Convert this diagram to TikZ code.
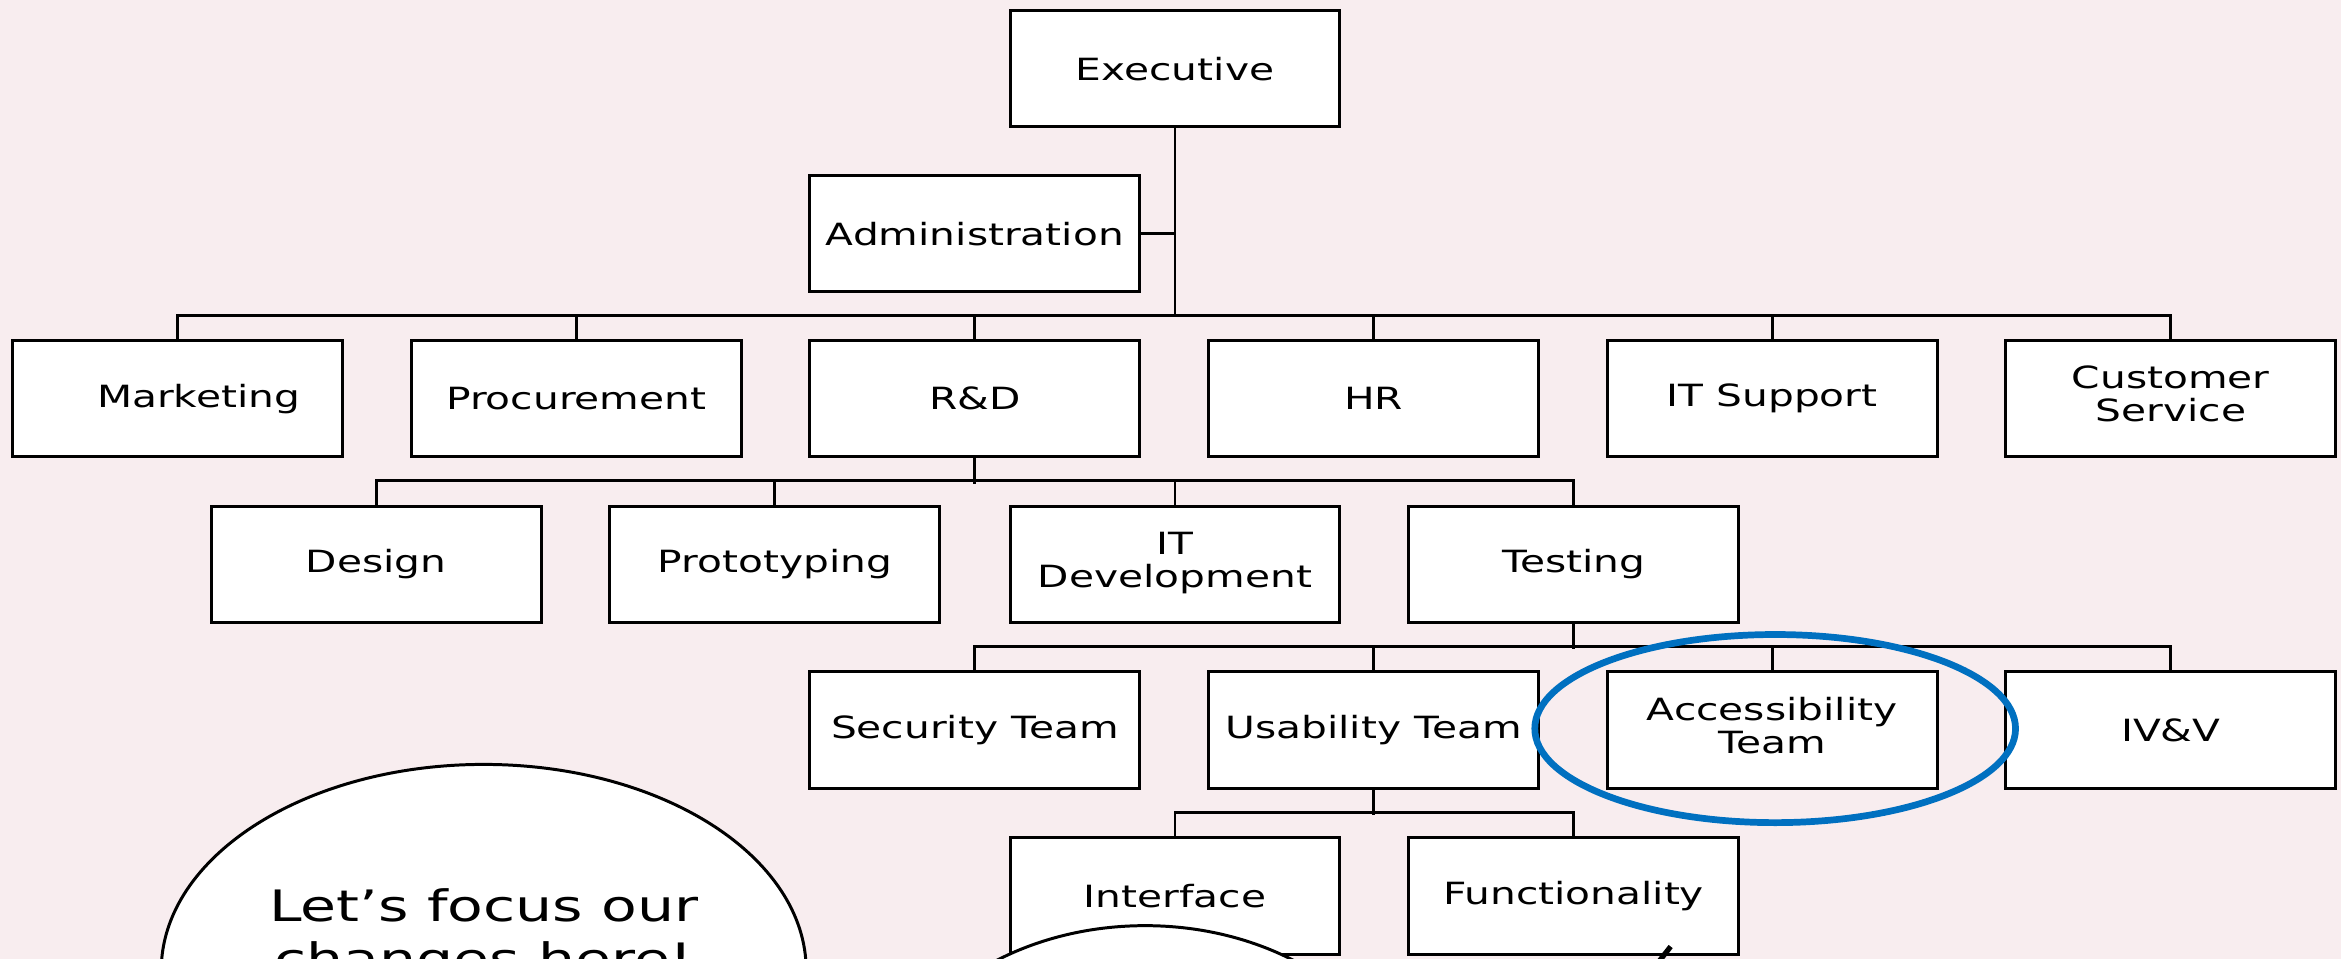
\documentclass[tikz,border=0pt]{standalone}
\usepackage{fontspec}
\setmainfont{DejaVu Sans}
\usepackage{graphicx}
\usetikzlibrary{shapes.geometric}
\definecolor{bg}{RGB}{248,237,239}
\definecolor{ring}{RGB}{0,112,192}
\newcommand{\wtxt}[1]{\scalebox{1.33}[1]{#1}}
\newcommand{\wtwo}[2]{\scalebox{1.33}[1]{\begin{tabular}{@{}c@{}}#1\\#2\end{tabular}}}
\tikzset{
  orgbox/.style={draw, fill=white, line width=2pt, minimum width=221pt, minimum height=78pt, inner sep=0pt, font=\fontsize{20.5}{22}\selectfont},
  link/.style={line width=2pt},
  bubble/.style={ellipse, draw, fill=white, line width=2pt, inner sep=0pt},
  bubbletext/.style={font=\fontsize{29}{35}\selectfont, align=center}
}
\begin{document}
\begin{tikzpicture}[x=1pt,y=-1pt]
\useasboundingbox (0,0) rectangle (1568,642);
\clip (0,0) rectangle (1568,642);
\fill[bg] (0,0) rectangle (1568,642);

% nodes
\node[orgbox] (exec) at (787,46) {\wtxt{Executive}};
\node[orgbox] (admin) at (653,156.5) {\wtxt{Administration}};

\node[orgbox] (mkt) at (119,267) {\wtxt{\hspace*{21pt}Marketing}};
\node[orgbox] (proc) at (386,267) {\wtxt{Procurement}};
\node[orgbox] (rd) at (653,267) {\wtxt{R\&D}};
\node[orgbox] (hr) at (920,267) {\wtxt{HR}};
\node[orgbox] (its) at (1187,267) {\wtxt{IT Support}};
\node[orgbox] (cs) at (1454,267) {\wtwo{Customer}{Service}};

\node[orgbox] (des) at (252,378) {\wtxt{Design}};
\node[orgbox] (proto) at (519,378) {\wtxt{Prototyping}};
\node[orgbox] (itdev) at (787,378) {\wtwo{IT}{Development}};
\node[orgbox] (test) at (1054,378) {\wtxt{Testing}};

\node[orgbox] (sec) at (653,489) {\wtxt{Security Team}};
\node[orgbox] (usa) at (920,489) {\wtxt{Usability Team}};
\node[orgbox] (acc) at (1187,489) {\wtwo{Accessibility}{Team}};
\node[orgbox] (ivv) at (1454,489) {\wtxt{IV\&V}};

\node[orgbox] (intf) at (787,600) {\wtxt{Interface}};
\node[orgbox] (func) at (1054,600) {\wtxt{Functionality}};

% connectors
\coordinate (bus1) at (787,212);
\draw[link] (exec.south) -- (bus1);
\draw[link] (admin.east) -- (admin.east -| exec.south);
\draw[link] (mkt.north) -- ++(0,-16) -| (cs.north);
\foreach \n in {proc,rd,hr,its} \draw[link] (\n.north) -- ++(0,-16);

\draw[link] (rd.south) -- ++(0,17) coordinate (bus2);
\draw[link] (des.north) -- ++(0,-16) -| (test.north);
\foreach \n in {proto,itdev} \draw[link] (\n.north) -- ++(0,-16);

\draw[link] (test.south) -- ++(0,17) coordinate (bus3);
\draw[link] (sec.north) -- ++(0,-16) -| (ivv.north);
\foreach \n in {usa,acc} \draw[link] (\n.north) -- ++(0,-16);

\draw[link] (usa.south) -- ++(0,17) coordinate (bus4);
\draw[link] (intf.north) -- ++(0,-16) -| (func.north);

% highlight ring
\node[ellipse, draw=ring, line width=4.5pt, minimum width=322pt, minimum height=126pt, inner sep=0pt] (ring) at (1189,488) {};

% speech bubbles (cut off at the bottom)
\node[bubble, minimum width=432pt, minimum height=276pt] (bub1) at (324,650) {};
\node[bubbletext] (bub1txt) at (324,628) {\scalebox{1.35}[1]{\begin{tabular}{@{}c@{}}Let’s focus our\\changes here!\end{tabular}}};
\node[bubble, minimum width=360pt, minimum height=280pt] (bub2) at (767,760) {};

% pointer stroke
\coordinate (p1) at (1119,634);
\coordinate (p2) at (1108,648);
\draw[line width=3.5pt] (p1) -- (p2);
\end{tikzpicture}
\end{document}
